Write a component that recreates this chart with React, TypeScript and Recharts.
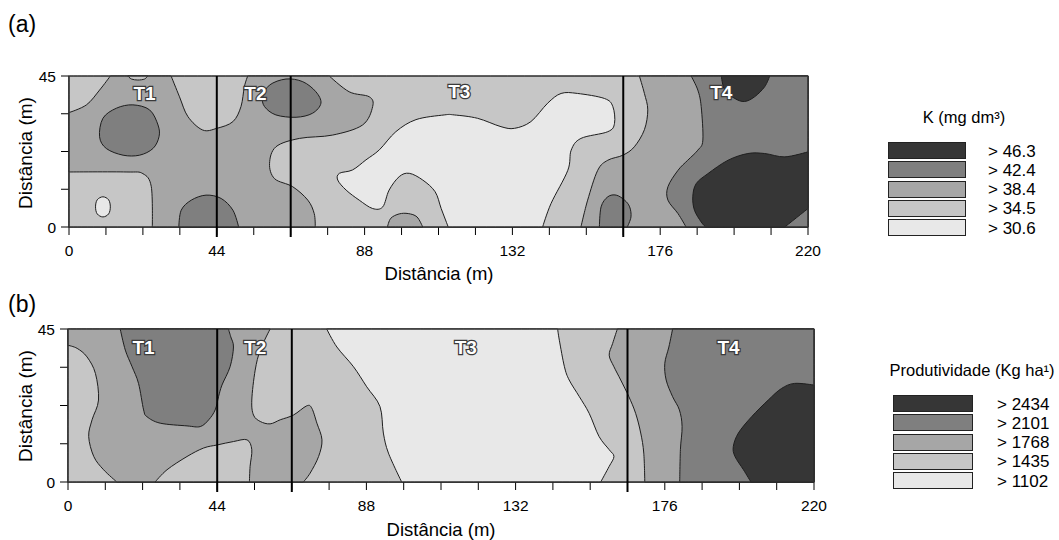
import React from "react";
import { ScatterChart, Scatter, XAxis, YAxis } from "recharts";

type Pt = [number, number];

// contour outlines, in metres (x: 0-220, y: 0-45)
// panel (a) K
const aWhiteMain: Pt[] = [
  [80, 14], [80.5, 16], [84.4, 17], [88.4, 20], [92.4, 23], [97.3, 28.4], [103.3, 32], [111.7, 33.4],
  [114.7, 33.4], [121.6, 32.4], [128.6, 29.9], [132.6, 29.4], [137.5, 31.4], [142.5, 36.9], [146.5, 39.8],
  [151.4, 39.8], [159.4, 38.3], [161.9, 35.9], [162.4, 30.9], [160.4, 28.4], [152.4, 26.4], [149.5, 22.9],
  [148.5, 16.9], [143.5, 7], [141, 0], [112.9, 0], [110.8, 5.5], [109, 10.5], [105.3, 14], [101.3, 16],
  [98.3, 15], [95.3, 11], [93.4, 6], [90.4, 5.5], [86.4, 8], [82.5, 11],
];
const aWhiteDot: Pt[] = [[10.1, 9], [11.8, 8.1], [12.3, 6], [11.8, 3.9], [10.1, 3], [8.4, 3.9], [7.9, 6], [8.4, 8.1]];
const aMidLeft: Pt[] = [
  [0, 34.1], [5.2, 36.4], [9.1, 40.8], [12.3, 45], [30.4, 45], [32.9, 38.8], [35.4, 32.9], [39.8, 28.9],
  [44, 29.4], [48.8, 31.4], [51.2, 35.9], [52.2, 41.8], [53.2, 45], [77.5, 45], [83.4, 40.3], [89.4, 38.8],
  [90.4, 35.9], [87.4, 30.4], [78.5, 27.4], [68.6, 26.4], [61.6, 23.9], [59.7, 18.9], [61.2, 14.4],
  [66.6, 12], [71.1, 8], [73, 4], [73.3, 0], [24.8, 0], [24.5, 12], [22, 15.9], [17, 16.4], [0, 16.4],
];
const aMidBump: Pt[] = [[94.8, 0], [95.8, 2.6], [98.3, 3.9], [101, 4], [103.6, 3], [105.3, 0]];
const aMidRight: Pt[] = [
  [152.4, 0], [154.4, 8], [157.4, 16.9], [160.4, 19.9], [164.9, 21.4], [168.3, 23.9], [171.3, 29],
  [172.3, 34.9], [171.3, 39.8], [169.8, 45], [220, 45], [220, 0],
];
const aLightLens: Pt[] = [[17.5, 45], [18.6, 44.1], [20.5, 43.8], [22.5, 44.1], [23.4, 45]];
const aDarkT1: Pt[] = [
  [9.1, 26.9], [10.1, 32.4], [14.1, 35.4], [19, 36.4], [24, 34.9], [26.5, 30.4], [26.8, 26.9],
  [25, 23.4], [21, 21.4], [16.1, 21.4], [11.1, 23.4],
];
const aDarkBottom: Pt[] = [[32.7, 0], [33.4, 5], [36.4, 8], [40.8, 9.5], [45.3, 8.5], [48.8, 5], [50.5, 0]];
const aDarkT2: Pt[] = [
  [57.7, 38.8], [59.7, 42.3], [64.6, 44.1], [69.6, 43.3], [73.5, 40.3], [75, 36.9], [72.5, 33.9],
  [67.6, 32.7], [61.6, 33.4], [58.2, 35.9],
];
const aDarkRight: Pt[] = [
  [185.2, 45], [187.2, 40.8], [188.2, 35.9], [188.7, 25.9], [187.2, 22.9], [184.2, 19.9], [181.3, 16.9],
  [178.3, 12], [178.3, 8], [181.3, 4], [183.7, 0], [220, 0], [220, 45],
];
const aDarkSmall: Pt[] = [[157.9, 0], [158.4, 6], [160.4, 9], [162.9, 9.5], [165.4, 8], [166.9, 6], [167.3, 3], [166.2, 0]];
const aBlackTop: Pt[] = [[194.2, 45], [195.2, 40.8], [198.2, 38.3], [201.1, 37.4], [204.1, 38.8], [207.1, 41.8], [208.6, 45]];
const aBlackBottom: Pt[] = [
  [220, 22.4], [213.1, 20.9], [207.1, 21.9], [202.1, 21.9], [196.2, 19.9], [190.2, 15.9], [186.7, 12.9],
  [185.7, 9], [186.2, 5], [188.2, 1.5], [189.5, 0], [213.1, 0], [220, 5.5],
];

// panel (b) produtividade
const bMidLeft: Pt[] = [
  [0, 45], [59.6, 45], [56.7, 38.8], [55.2, 32.9], [54.2, 24.1], [54.7, 19.7], [56.7, 17.8], [59.6, 17.1],
  [62.6, 18.3], [66.5, 19.7], [70.4, 22.4], [71.9, 21.7], [73.4, 17.3], [74.9, 12.4], [73.9, 7.5],
  [71.4, 2.6], [69.4, 0], [14.4, 0], [10.5, 3.6], [7.6, 7.5], [6.1, 13.4], [7.1, 18.3], [9, 24.1],
  [8.1, 31.9], [5.6, 36.8], [2.7, 39.3], [0, 40.2],
];
const bLightBottom: Pt[] = [
  [25.7, 0], [29.2, 3.6], [35.1, 7.5], [40, 10], [44, 10.9], [48.8, 11.9], [52.8, 12.4], [54.2, 9.5],
  [53.7, 4.6], [53.5, 0],
];
const bDarkT1: Pt[] = [
  [15.4, 45], [16.9, 38.8], [18.9, 33.9], [20.8, 29], [22.3, 21.2], [23.3, 19.2], [27.2, 17.3], [35.1, 16.5],
  [39, 16.3], [41.5, 18.3], [43.4, 21.2], [44.4, 25.1], [45.4, 28.5], [47.8, 33.9], [48.8, 39.7], [48, 42.7],
  [47.3, 45],
];
const bWhite: Pt[] = [
  [76.3, 45], [144.4, 45], [144.9, 41.7], [146.4, 33.9], [147.8, 30], [150.8, 25.1], [153.7, 20.2],
  [156.6, 13.4], [159.6, 9.5], [161, 7.5], [159.6, 4.6], [157.1, 0], [98.4, 0], [94.5, 8.5], [93, 14.4],
  [92, 22.2], [88.1, 28], [84.2, 33.9], [79.3, 39.7],
];
const bMidRight: Pt[] = [
  [162, 45], [160.6, 40.7], [159.6, 37.3], [161, 33.9], [163, 30], [165.4, 25.1], [167.4, 20.2],
  [168.9, 14.4], [169.8, 8.5], [170.1, 0], [220, 0], [220, 45],
];
const bDarkRight: Pt[] = [
  [178.3, 45], [177.2, 39.7], [176, 34.9], [176.4, 30], [178.3, 25.1], [180.3, 21.2], [181.1, 16.3],
  [180.6, 9.5], [180.4, 0], [220, 0], [220, 45],
];
const bBlack: Pt[] = [
  [220, 28.5], [214.3, 29], [210.4, 27.5], [206.5, 24.1], [201.6, 19.2], [197.7, 14.4], [196.2, 10.4],
  [196.7, 7.5], [199.2, 3.6], [201.4, 0], [220, 0],
];

const plotBox: Pt[] = [[0, 0], [0, 45], [220, 45], [220, 0]];
const dividers = [44, 66, 165];

const labelsA = [
  { x: 22.5, y: 39.8, name: "T1" },
  { x: 55.5, y: 39.8, name: "T2" },
  { x: 116.2, y: 40.3, name: "T3" },
  { x: 194.2, y: 40, name: "T4" },
];
const labelsB = [
  { x: 22.3, y: 39.7, name: "T1" },
  { x: 55.2, y: 39.7, name: "T2" },
  { x: 117.3, y: 39.7, name: "T3" },
  { x: 194.8, y: 39.7, name: "T4" },
];

const xTicks = [0, 11, 22, 33, 44, 55, 66, 77, 88, 99, 110, 121, 132, 143, 154, 165, 176, 187, 198, 209, 220];
const xLabels = [0, 44, 88, 132, 176, 220];
const yTicks = [0, 11.25, 22.5, 33.75, 45];
const yLabels = [0, 45];

const kLegend = ["> 46.3", "> 42.4", "> 38.4", "> 34.5", "> 30.6"];
const prodLegend = ["> 2434", "> 2101", "> 1768", "> 1435", "> 1102"];

// [polygon, class 1 (lightest) .. 5 (darkest)], painted in order
const layersA: [Pt[], number][] = [
  [plotBox, 2], [aWhiteMain, 1], [aWhiteDot, 1], [aMidLeft, 3], [aMidBump, 3], [aMidRight, 3],
  [aLightLens, 2], [aDarkT1, 4], [aDarkBottom, 4], [aDarkT2, 4], [aDarkRight, 4], [aDarkSmall, 4],
  [aBlackTop, 5], [aBlackBottom, 5],
];
const layersB: [Pt[], number][] = [
  [plotBox, 2], [bMidLeft, 3], [bLightBottom, 2], [bDarkT1, 4], [bWhite, 1], [bMidRight, 3],
  [bDarkRight, 4], [bBlack, 5],
];

const shades = ["#e8e8e8", "#c6c6c6", "#a6a6a6", "#7f7f7f", "#363636"];
const FONT = "'Liberation Sans', Arial, sans-serif";

const onEdge = ([x, y]: Pt) => x <= 0 || x >= 220 || y <= 0 || y >= 45;

// closed catmull-rom through the scaled points, straight along the frame
function smoothPath(pts: { x: number; y: number }[], sharp: boolean[]) {
  const n = pts.length;
  let d = `M${pts[0].x},${pts[0].y}`;
  for (let i = 0; i < n; i++) {
    const p0 = pts[(i - 1 + n) % n];
    const p1 = pts[i];
    const p2 = pts[(i + 1) % n];
    const p3 = pts[(i + 2) % n];
    const c1x = sharp[i] ? p1.x : p1.x + (p2.x - p0.x) / 6;
    const c1y = sharp[i] ? p1.y : p1.y + (p2.y - p0.y) / 6;
    const c2x = sharp[(i + 1) % n] ? p2.x : p2.x - (p3.x - p1.x) / 6;
    const c2y = sharp[(i + 1) % n] ? p2.y : p2.y - (p3.y - p1.y) / 6;
    d += ` C${c1x},${c1y} ${c2x},${c2y} ${p2.x},${p2.y}`;
  }
  return d + " Z";
}

const noDot = () => <g />;

interface PanelProps {
  layers: [Pt[], number][];
  labels: { x: number; y: number; name: string }[];
  width: number;
  height: number;
  margin: { top: number; right: number; bottom: number; left: number };
  yWidth: number;
}

function Panel({ layers, labels, width, height, margin, yWidth }: PanelProps) {
  const tickStyle = { fontSize: 15.5, fill: "#000", fontFamily: FONT };
  return (
    <ScatterChart width={width} height={height} margin={margin}>
      <XAxis
        type="number"
        dataKey="x"
        domain={[0, 220]}
        ticks={xTicks}
        interval={0}
        tickFormatter={(v: number) => (xLabels.includes(v) ? String(v) : "")}
        tickSize={8}
        tickMargin={10}
        tick={tickStyle}
        axisLine={{ stroke: "#000" }}
        tickLine={{ stroke: "#000" }}
        height={30}
      />
      <YAxis
        type="number"
        dataKey="y"
        domain={[0, 45]}
        ticks={yTicks}
        interval={0}
        tickFormatter={(v: number) => (yLabels.includes(v) ? String(v) : "")}
        tickSize={8}
        tickMargin={5}
        tick={tickStyle}
        axisLine={{ stroke: "#000" }}
        tickLine={{ stroke: "#000" }}
        width={yWidth}
      />
      {layers.map(([poly, level], i) => {
        const sharp = poly.map(onEdge);
        return (
          <Scatter
            key={`c${i}`}
            data={poly.map(([x, y]) => ({ x, y }))}
            isAnimationActive={false}
            shape={noDot}
            line={(p: any) => (
              <path d={smoothPath(p.points, sharp)} fill={shades[level - 1]} stroke="#1e1e1e" strokeWidth={1} />
            )}
          />
        );
      })}
      <Scatter
        data={plotBox.map(([x, y]) => ({ x, y }))}
        isAnimationActive={false}
        shape={noDot}
        line={(p: any) => (
          <path
            d={`M${p.points.map((q: any) => `${q.x},${q.y}`).join("L")}Z`}
            fill="none"
            stroke="#333"
            strokeWidth={1.2}
          />
        )}
      />
      {dividers.map((x) => (
        <Scatter
          key={`d${x}`}
          data={[{ x, y: 0 }, { x, y: 45 }]}
          isAnimationActive={false}
          shape={noDot}
          line={(p: any) => (
            <path
              d={`M${p.points[0].x},${p.points[0].y + 10}L${p.points[1].x},${p.points[1].y}`}
              stroke="#000"
              strokeWidth={2}
            />
          )}
        />
      ))}
      <Scatter
        data={labels}
        isAnimationActive={false}
        shape={(p: any) => (
          <text
            x={p.cx}
            y={p.cy}
            textAnchor="middle"
            dominantBaseline="central"
            fontFamily={FONT}
            fontWeight="bold"
            fontSize={19}
            fill="#fff"
            stroke="#3a3a3a"
            strokeWidth={2.4}
            paintOrder="stroke"
          >
            {p.payload.name}
          </text>
        )}
      />
    </ScatterChart>
  );
}

function Legend({ title, items, left, top, titleX, boxW, textLeft }: {
  title: string; items: string[]; left: number; top: number; titleX: number; boxW: number; textLeft: number;
}) {
  const colors = [...shades].reverse();
  return (
    <>
      <div style={{ position: "absolute", left: titleX, top: top - 25, transform: "translate(-50%, -50%)", fontSize: 16.5, whiteSpace: "nowrap" }}>
        {title}
      </div>
      {items.map((t, i) => (
        <React.Fragment key={t}>
          <div
            style={{
              position: "absolute", left, top: top + i * 19.3, width: boxW, height: 15,
              background: colors[i], border: "1px solid #222",
            }}
          />
          <div style={{ position: "absolute", left: textLeft, top: top + i * 19.3 + 8.5, transform: "translateY(-50%)", fontSize: 17, whiteSpace: "nowrap" }}>
            {t}
          </div>
        </React.Fragment>
      ))}
    </>
  );
}

const yTitle = (cx: number, cy: number) => (
  <div style={{ position: "absolute", left: cx, top: cy, transform: "translate(-50%, -50%) rotate(-90deg)", fontSize: 19, whiteSpace: "nowrap" }}>
    Distância (m)
  </div>
);
const xTitle = (cx: number, cy: number) => (
  <div style={{ position: "absolute", left: cx, top: cy, transform: "translate(-50%, -50%)", fontSize: 18.5, whiteSpace: "nowrap" }}>
    Distância (m)
  </div>
);

export default function App() {
  return (
    <div style={{ position: "absolute", left: 0, top: 0, width: 1059, height: 540, background: "#fff", fontFamily: FONT, color: "#000", lineHeight: 1 }}>
      <div style={{ position: "absolute", left: 8, top: 13, fontSize: 23 }}>(a)</div>
      <div style={{ position: "absolute", left: 8, top: 293, fontSize: 23 }}>(b)</div>

      <div style={{ position: "absolute", left: 0, top: 0 }}>
        <Panel layers={layersA} labels={labelsA} width={840} height={300} margin={{ top: 76, right: 32, bottom: 43, left: 0 }} yWidth={69} />
      </div>
      <div style={{ position: "absolute", left: 0, top: 250 }}>
        <Panel layers={layersB} labels={labelsB} width={840} height={280} margin={{ top: 79, right: 26, bottom: 18, left: 0 }} yWidth={68} />
      </div>

      {yTitle(25, 153)}
      {xTitle(439, 274)}
      {yTitle(25, 406)}
      {xTitle(441, 530)}

      <Legend title="K (mg dm³)" items={kLegend} left={888} top={142} titleX={964} boxW={76} textLeft={988} />
      <Legend title="Produtividade (Kg ha¹)" items={prodLegend} left={893} top={395} titleX={972} boxW={78} textLeft={997} />
    </div>
  );
}
